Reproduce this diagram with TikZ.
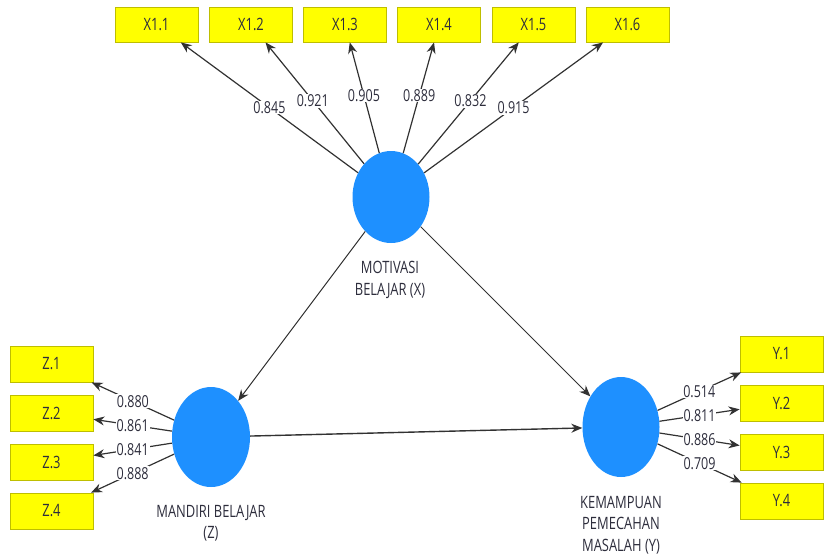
\documentclass[tikz,border=0pt]{standalone}
\usepackage{fontspec}
\setmainfont{Open Sans}[FakeStretch=0.76]
\usetikzlibrary{shapes.geometric,arrows.meta}

\definecolor{latblue}{RGB}{30,144,255}
\definecolor{boxedge}{RGB}{190,190,0}
\definecolor{boxfill}{RGB}{255,255,0}
\definecolor{edge}{RGB}{50,50,50}
\definecolor{txt}{RGB}{45,45,60}

\begin{document}
\begin{tikzpicture}[x=1pt,y=-1pt,
  ind/.style={draw=boxedge, line width=0.8pt, fill=boxfill, minimum width=83pt,
    minimum height=35pt, inner sep=0pt, text=txt, font=\fontsize{17}{20}\selectfont},
  lat/.style={ellipse, fill=latblue, inner sep=0pt},
  load/.style={draw=edge, line width=1.2pt, -{Stealth[length=11pt,width=9pt]}},
  coef/.style={fill=white, inner sep=0.8pt, text=txt, font=\fontsize{16.5}{19}\selectfont},
  caption/.style={align=center, text=txt, font=\fontsize{17}{21.5}\selectfont}]

\useasboundingbox (0,0) rectangle (826,558);

% latent constructs
\node[lat, minimum width=77pt, minimum height=92pt]  (X) at (391,197) {};
\node[lat, minimum width=78pt, minimum height=100pt] (Z) at (211,437) {};
\node[lat, minimum width=77pt, minimum height=100pt] (Y) at (621,427) {};

\node[caption] (Xcap) at (390,280) {MOTIVASI\\BELAJAR (X)};
\node[caption] (Zcap) at (211,523) {MANDIRI BELAJAR\\(Z)};
\node[caption] (Ycap) at (621,525) {KEMAMPUAN\\PEMECAHAN\\MASALAH (Y)};

% indicators of X
\node[ind] (X11) at (156.5,24.5) {X1.1};
\node[ind] (X12) at (251,24.5)   {X1.2};
\node[ind] (X13) at (345,24.5)   {X1.3};
\node[ind] (X14) at (439,24.5)   {X1.4};
\node[ind] (X15) at (533.5,24.5) {X1.5};
\node[ind] (X16) at (627.5,24.5) {X1.6};

% indicators of Z
\node[ind, minimum height=36pt] (Z1) at (51.5,364) {Z.1};
\node[ind, minimum height=36pt] (Z2) at (51.5,413) {Z.2};
\node[ind, minimum height=36pt] (Z3) at (51.5,462) {Z.3};
\node[ind, minimum height=36pt] (Z4) at (51.5,511) {Z.4};

% indicators of Y
\node[ind, minimum height=36pt] (Y1) at (781.5,354) {Y.1};
\node[ind, minimum height=36pt] (Y2) at (781.5,403) {Y.2};
\node[ind, minimum height=36pt] (Y3) at (781.5,452) {Y.3};
\node[ind, minimum height=36pt] (Y4) at (781.5,501) {Y.4};

% outer loadings
\draw[load] (X) -- node[coef, pos=0.5]  {0.845} (X11);
\draw[load] (X) -- node[coef, pos=0.52] {0.921} (X12);
\draw[load] (X) -- node[coef, pos=0.52] {0.905} (X13);
\draw[load] (X) -- node[coef, pos=0.52] {0.889} (X14);
\draw[load] (X) -- node[coef, pos=0.52] {0.832} (X15);
\draw[load] (X) -- node[coef, pos=0.5]  {0.915} (X16);

\draw[load] (Z) -- node[coef, pos=0.5] {0.880} (Z1);
\draw[load] (Z) -- node[coef, pos=0.5] {0.861} (Z2);
\draw[load] (Z) -- node[coef, pos=0.5] {0.841} (Z3);
\draw[load] (Z) -- node[coef, pos=0.5] {0.888} (Z4);

\draw[load] (Y) -- node[coef, pos=0.5] {0.514} (Y1);
\draw[load] (Y) -- node[coef, pos=0.5] {0.811} (Y2);
\draw[load] (Y) -- node[coef, pos=0.5] {0.886} (Y3);
\draw[load] (Y) -- node[coef, pos=0.5] {0.709} (Y4);

% structural paths
\draw[load, line width=1pt] (X) -- (Z);
\draw[load, line width=1pt] (X) -- (Y);
\draw[load, line width=1.4pt] (Z) -- (Y);
\end{tikzpicture}
\end{document}
